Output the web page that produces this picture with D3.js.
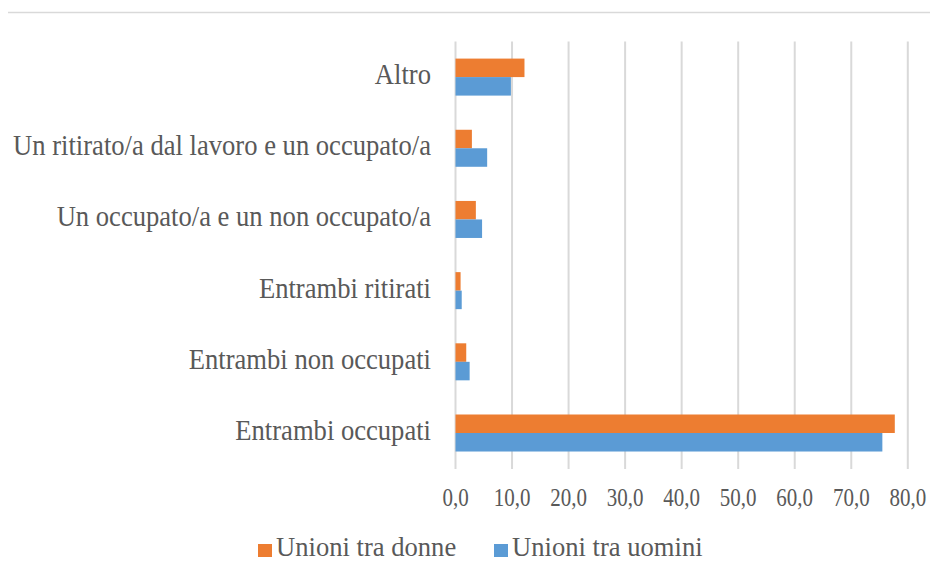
<!DOCTYPE html>
<html>
<head>
<meta charset="utf-8">
<script src="https://cdn.jsdelivr.net/npm/d3@7"></script>
<style>
  body { margin: 0; background: #fff; }
  text { font-family: "Liberation Serif", "Times New Roman", serif; fill: #595959; }
</style>
</head>
<body>
<script>
// categories top to bottom
var categories = [
  "Altro",
  "Un ritirato/a dal lavoro e un occupato/a",
  "Un occupato/a e un non occupato/a",
  "Entrambi ritirati",
  "Entrambi non occupati",
  "Entrambi occupati"
];
var seriesNames = [ "Unioni tra donne", "Unioni tra uomini" ];
var donne  = [ 12.2, 2.9, 3.6, 0.9, 1.9, 77.7 ];
var uomini = [ 9.8, 5.6, 4.7, 1.1, 2.5, 75.5 ];
var tickValues = [ 0, 10, 20, 30, 40, 50, 60, 70, 80 ];
var colors = [ "#ed7d31", "#5b9bd5" ];

var width = 930, height = 561;
var svg = d3.select( "body" ).append( "svg" )
  .attr( "width", width )
  .attr( "height", height );

// thin border line at top
svg.append( "line" )
  .attr( "x1", 8 ).attr( "x2", width )
  .attr( "y1", 12.5 ).attr( "y2", 12.5 )
  .attr( "stroke", "#d9d9d9" ).attr( "stroke-width", 1.5 );

var x = d3.scaleLinear().domain( [ 0, 80 ] ).range( [ 455.5, 907.8 ] );
var y = d3.scaleBand().domain( categories ).range( [ 41.5, 468.6 ] )
  .paddingInner( 0.48 ).paddingOuter( 0.24 );
var ySub = d3.scaleBand().domain( seriesNames ).range( [ 0, y.bandwidth() ] );

var loc = d3.formatLocale( { decimal: ",", thousands: ".", grouping: [ 3 ], currency: [ "", "€" ] } );
var fmt = loc.format( ".1f" );

// gridlines
svg.append( "g" ).selectAll( "line" )
  .data( tickValues )
  .join( "line" )
  .attr( "x1", d => x( d ) ).attr( "x2", d => x( d ) )
  .attr( "y1", 41.5 ).attr( "y2", 469 )
  .attr( "stroke", "#d9d9d9" ).attr( "stroke-width", 2 );

// tick labels
svg.append( "g" ).selectAll( "text" )
  .data( tickValues )
  .join( "text" )
  .attr( "text-anchor", "middle" )
  .attr( "transform", d => "translate(" + x( d ) + ",506) scale(1,1.15)" )
  .style( "font-size", "21px" )
  .text( d => fmt( d ) );

// bars
var rows = categories.map( ( c, i ) => ( { cat: c, vals: [ donne[ i ], uomini[ i ] ] } ) );
var groups = svg.append( "g" ).selectAll( "g" )
  .data( rows )
  .join( "g" )
  .attr( "transform", d => "translate(0," + y( d.cat ) + ")" );
groups.selectAll( "rect" )
  .data( d => d.vals.map( ( v, j ) => ( { s: seriesNames[ j ], v: v, j: j } ) ) )
  .join( "rect" )
  .attr( "x", x( 0 ) )
  .attr( "y", d => ySub( d.s ) )
  .attr( "width", d => x( d.v ) - x( 0 ) )
  .attr( "height", ySub.bandwidth() )
  .attr( "fill", d => colors[ d.j ] );

// category labels
svg.append( "g" ).selectAll( "text" )
  .data( categories )
  .join( "text" )
  .attr( "text-anchor", "end" )
  .attr( "transform", d => "translate(431," + ( y( d ) + y.bandwidth() / 2 + 7 ) + ") scale(1,1.1)" )
  .style( "font-size", "26.6px" )
  .text( d => d );

// legend
var legendX = [ 258, 494 ];
var legend = svg.append( "g" ).selectAll( "g" )
  .data( seriesNames )
  .join( "g" )
  .attr( "transform", ( d, i ) => "translate(" + legendX[ i ] + ",0)" );
legend.append( "rect" )
  .attr( "x", 0 ).attr( "y", 544 )
  .attr( "width", 14 ).attr( "height", 13 )
  .attr( "fill", ( d, i ) => colors[ i ] );
legend.append( "text" )
  .attr( "transform", "translate(18,556) scale(1,1.05)" )
  .style( "font-size", "26.6px" )
  .text( d => d );
</script>
</body>
</html>
